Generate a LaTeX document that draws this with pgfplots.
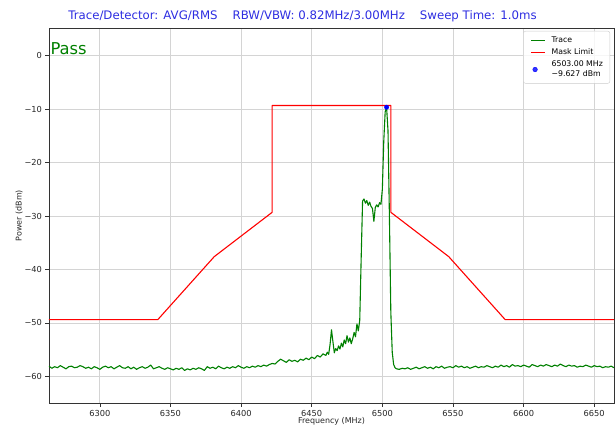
\documentclass[border=0pt]{standalone}
\usepackage{pgfplots}
\pgfplotsset{compat=1.18}
\usepackage{fontspec}
\setmainfont{DejaVu Sans}
\definecolor{trgreen}{RGB}{0,128,0}
\definecolor{titleblue}{RGB}{45,45,225}
\definecolor{gridgray}{RGB}{212,212,212}
\begin{document}
\begin{tikzpicture}
\useasboundingbox (-49bp,-27bp) rectangle (567bp,403bp);
\begin{axis}[
  scale only axis, width=565bp, height=375bp,
  xmin=6264, xmax=6664, ymin=-65, ymax=5.2,
  xtick={6300,6350,6400,6450,6500,6550,6600,6650},
  xticklabels={6300,6350,6400,6450,6500,6550,6600,6650},
  ytick={-60,-50,-40,-30,-20,-10,0},
  yticklabels={−60,−50,−40,−30,−20,−10,0},
  xtick pos=bottom, ytick pos=left,
  tick align=outside, major tick length=3.5bp,
  tick style={black!80, line width=0.6bp},
  ticklabel style={font=\fontsize{8.3}{10}\selectfont, text=black!85},
  axis line style={black!80, line width=0.8bp},
  grid=major, major grid style={gridgray, line width=0.7bp},
  legend style={at={(0.993,0.992)}, anchor=north east, font=\fontsize{7.8}{9.4}\selectfont,
    draw=black!20, rounded corners=2bp, fill=white, fill opacity=0.8, text opacity=1,
    cells={anchor=west, align=left}, row sep=1bp, inner xsep=5bp, inner ysep=3.5bp},
]
\addplot[trgreen, line width=1.1bp, line join=round,
  legend image code/.code={\path (-6bp,0bp) (14bp,0bp); \draw[draw=trgreen, line width=1.3bp] (-4bp,0bp) -- (10bp,0bp);}] coordinates {
(6264,-58.1)(6266,-58.5)(6268,-58.2)(6270,-58.4)(6272,-58.0)(6274,-58.3)(6276,-58.6)(6278,-58.2)
(6280,-58.1)(6282,-58.4)(6284,-58.3)(6286,-58.0)(6288,-58.2)(6290,-58.5)(6292,-58.3)(6294,-58.6)
(6296,-58.2)(6298,-58.4)(6300,-58.7)(6302,-58.3)(6304,-58.1)(6306,-58.4)(6308,-58.2)(6310,-58.6)
(6312,-58.3)(6314,-58.0)(6316,-58.4)(6318,-58.5)(6320,-58.2)(6322,-58.6)(6324,-58.3)(6326,-58.7)
(6328,-58.4)(6330,-58.2)(6332,-58.5)(6334,-58.3)(6336,-57.9)(6338,-58.6)(6340,-58.4)(6342,-58.2)
(6344,-58.5)(6346,-58.7)(6348,-58.4)(6350,-58.6)(6352,-58.8)(6354,-58.5)(6356,-58.7)(6358,-58.4)
(6360,-58.9)(6362,-58.6)(6364,-58.8)(6366,-58.5)(6368,-58.7)(6370,-58.4)(6372,-58.6)(6374,-58.9)
(6376,-58.2)(6378,-58.5)(6380,-58.3)(6382,-58.6)(6384,-58.1)(6386,-58.4)(6388,-58.6)(6390,-58.3)
(6392,-58.5)(6394,-58.2)(6396,-58.4)(6398,-58.0)(6400,-58.3)(6402,-58.5)(6404,-58.2)(6406,-58.4)
(6408,-58.1)(6410,-58.3)(6412,-58.0)(6414,-58.2)(6416,-57.9)(6418,-58.1)
(6420,-57.8)(6422,-57.6)(6424,-57.7)(6426,-57.2)(6428,-56.8)(6430,-57.1)(6432,-57.4)(6434,-56.9)
(6436,-57.2)(6438,-57.0)(6440,-57.3)(6442,-56.8)(6444,-57.0)(6446,-56.6)(6448,-56.9)(6450,-56.4)
(6452,-56.7)(6454,-56.1)(6456,-56.4)(6458,-55.8)(6460,-56.1)(6461,-55.5)(6462,-55.9)(6463,-54.0)
(6464,-51.3)(6465,-53.5)(6466,-55.6)(6467,-54.8)(6468,-55.2)(6469,-54.3)(6470,-54.9)(6471,-53.8)
(6472,-54.5)(6473,-53.2)(6474,-53.9)(6475,-52.4)(6476,-53.6)(6477,-52.8)(6478,-53.9)(6479,-53.0)
(6480,-51.8)(6481,-52.6)(6482,-50.2)(6483,-51.5)(6484,-49.5)(6485,-38.0)(6486,-27.2)(6487,-26.8)
(6488,-27.6)(6489,-27.1)(6490,-28.0)(6491,-27.4)(6492,-28.2)(6493,-28.6)(6494,-31.0)(6495,-28.4)
(6496,-27.9)(6497,-28.3)(6498,-27.5)(6499,-27.8)(6500,-25.0)(6501,-16.0)(6502,-10.5)(6503,-9.627)
(6504,-14.0)(6505,-30.0)(6506,-48.0)(6507,-55.5)(6508,-57.8)(6509,-58.4)(6510,-58.6)
(6512,-58.7)(6514,-58.5)(6516,-58.6)(6518,-58.4)(6520,-58.7)(6522,-58.5)(6524,-58.3)(6526,-58.6)
(6528,-58.4)(6530,-58.2)(6532,-58.5)(6534,-58.3)(6536,-58.6)(6538,-58.2)(6540,-58.4)(6542,-58.1)
(6544,-58.5)(6546,-58.3)(6548,-58.2)(6550,-58.4)(6552,-58.0)(6554,-58.3)(6556,-58.1)(6558,-58.4)
(6560,-58.2)(6562,-58.5)(6564,-58.3)(6566,-58.1)(6568,-58.4)(6570,-58.2)(6572,-58.3)(6574,-58.0)
(6576,-58.2)(6578,-58.4)(6580,-58.1)(6582,-58.3)(6584,-57.9)(6586,-58.2)(6588,-58.0)(6590,-58.3)
(6592,-57.8)(6594,-58.1)(6596,-58.0)(6598,-58.2)(6600,-57.9)(6602,-58.1)(6604,-58.3)(6606,-57.8)
(6608,-58.0)(6610,-58.2)(6612,-57.9)(6614,-58.1)(6616,-57.8)(6618,-58.0)(6620,-58.2)(6622,-57.9)
(6624,-58.1)(6626,-57.7)(6628,-58.0)(6630,-58.2)(6632,-57.9)(6634,-58.1)(6636,-58.0)(6638,-58.3)
(6640,-58.1)(6642,-58.2)(6644,-57.9)(6646,-58.1)(6648,-58.3)(6650,-58.0)(6652,-58.2)(6654,-58.1)
(6656,-58.4)(6658,-58.2)(6660,-58.3)(6662,-58.1)(6664,-58.4)
};
\addlegendentry{Trace}
\addplot[red, line width=1.1bp, line join=round,
  legend image code/.code={\path (-6bp,0bp) (14bp,0bp); \draw[draw=red, line width=1.3bp] (-4bp,0bp) -- (10bp,0bp);}] coordinates {
(6264,-49.4)(6341,-49.4)(6381,-37.6)(6422,-29.3)(6422,-9.3)(6506,-9.3)(6506,-29.3)(6547,-37.6)(6587,-49.4)(6664,-49.4)
};
\addlegendentry{Mask Limit}
\addplot[only marks, mark=*, mark size=2.2bp, color=blue,
  legend image code/.code={\path (-6bp,0bp) (14bp,0bp); \fill[fill=blue] (0bp,0bp) circle (2.3bp);}] coordinates {(6503,-9.627)};
\addlegendentry{6503.00 MHz\\−9.627 dBm}
\node[anchor=base west, text=trgreen, font=\fontsize{16.4}{18}\selectfont] at ([xshift=-2bp,yshift=-27bp]rel axis cs:0,1) {Pass};
\end{axis}
\node[anchor=base, text=titleblue, font=\fontsize{11.8}{14}\selectfont] at (253.5bp,383bp)
  {Trace/Detector: AVG/RMS\hspace{15bp}RBW/VBW: 0.82MHz/3.00MHz\hspace{15bp}Sweep Time: 1.0ms};
\node[font=\fontsize{8}{10}\selectfont, text=black!85] at (282.5bp,-18bp) {Frequency (MHz)};
\node[rotate=90, font=\fontsize{8}{10}\selectfont, text=black!85] at (-30bp,187.5bp) {Power (dBm)};
\end{tikzpicture}
\end{document}
